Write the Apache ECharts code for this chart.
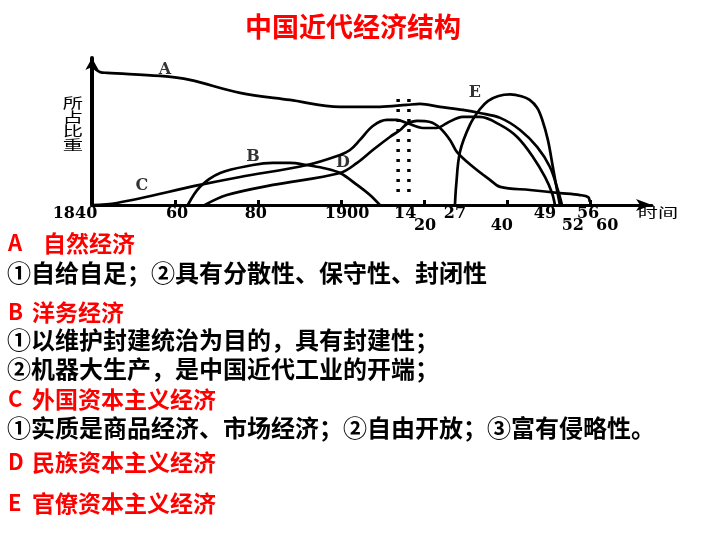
<!DOCTYPE html>
<html><head><meta charset="utf-8">
<script src="https://cdn.jsdelivr.net/npm/echarts@6/dist/echarts.min.js"></script>
<style>html,body{margin:0;padding:0;background:#fff}#c{width:720px;height:540px}</style>
</head><body><div id="c"></div>
<script>
// ---- data: [year, share] ----
const curveA = [[1840,90.8],[1841.9,86.9],[1843.6,86.3],[1856.4,84.3],[1863.6,81.7],[1875.7,73.2],[1887.7,68.6],[1899.8,64.1],[1909.4,64.1],[1915.9,65.4],[1919.1,66.0],[1923.9,64.1],[1929.4,62.1],[1933.5,60.1],[1938.4,56.9],[1943.2,49.0],[1947.3,37.9],[1950.4,24.8],[1952.3,9.8],[1953.3,0]];
const curveB = [[1863.1,0],[1866,11.8],[1870.9,20.9],[1878.8,26.1],[1883.6,27.5],[1887.7,27.5],[1891.8,26.1],[1895.7,24.2],[1899.8,20.9],[1903.9,13.1],[1907,6.5],[1909.4,0]];
const curveC = [[1840,0],[1846,1.3],[1866,13.1],[1875.7,18.3],[1891.8,26.1],[1899.8,32.7],[1902.2,35.9],[1904.6,42.5],[1907.7,51.6],[1911.1,55.6],[1913.5,55.6],[1915.9,53.6],[1919.8,50.3],[1923.2,50.3],[1925.6,53.6],[1929.4,57.5],[1933.5,57.5],[1938.4,52.3],[1942.5,44.4],[1946.3,31.4],[1949.2,18.3],[1950.9,7.8],[1951.6,0]];
const curveD = [[1867.2,0],[1872.5,6.5],[1883.6,13.1],[1899.8,20.9],[1903.9,27.5],[1907.7,35.9],[1911.8,44.4],[1914.3,49.0],[1915.9,52.9],[1918.4,54.9],[1921.5,54.2],[1923.9,50.3],[1926.3,42.5],[1928,34.6],[1931.9,24.8],[1936,16.3],[1938.4,11.8],[1945.6,9.8],[1952.8,7.8],[1957.6,6.5],[1959.6,5.2],[1960,2]];
const curveE = [[1927.5,0],[1927.8,13.1],[1928.7,34.6],[1931.1,52.3],[1933.5,62.5],[1935.5,68.0],[1938,71.2],[1940.8,72.2],[1943.5,71.0],[1945.5,68.6],[1947.3,63.5],[1948.5,56.0],[1949.9,42.5],[1951.1,24.8],[1952.1,9.8],[1952.8,0]];
const curveNames = ['A','B','C','D','E'];
const curveLabelAt = [[1857.6,88.2],[1878.8,31.4],[1852,12.4],[1900.5,27.5],[1932.3,73.2]];
const warYears = [1913.8, 1916.4];
const warSpan = [8.5, 70];
const tickMarkYears = [1860,1880,1900,1920,1940,1960];
const upperLabelAt = [1840,1860.5,1879.5,1901.5,1915.5,1927.5,1949.2,1959.6];
const upperLabelText = ['1840','60','80','1900','14','27','49','56'];
const lowerLabelAt = [1920.3,1938.8,1955.9,1964.2];
const lowerLabelText = ['20','40','52','60'];
const chartTitle = '中国近代经济结构';
const yName = '所占比重';
const xName = '时间';
const headLetters = ['A','B','C','D','E'];
const headNames = ['自然经济','洋务经济','外国资本主义经济','民族资本主义经济','官僚资本主义经济'];
const detailLines = ['①自给自足；②具有分散性、保守性、封闭性','①以维护封建统治为目的，具有封建性；','②机器大生产，是中国近代工业的开端；','①实质是商品经济、市场经济；②自由开放；③富有侵略性。'];

// ---- layout ----
const headY = [243,312,399,462,503];
const headX = [43,32,32,32,32];
const detailY = [273,340,369,428];
const CJK = '"Noto Sans CJK SC", sans-serif';
const SERIF = '"DejaVu Serif", serif';

function pick(pos, text, v) {
  for (let i = 0; i < pos.length; i++) if (Math.abs(pos[i] - v) < 1e-6) return text[i];
  return '';
}

const lineStyle = {color:'#000', width:2.7};
const curves = [curveA, curveB, curveC, curveD, curveE];
const series = curves.map((d, i) => ({
  type:'line', name: curveNames[i], data: d, smooth: 0.35, symbol:'none',
  lineStyle, silent:true, z: 3
}));
warYears.forEach(y => series.push({
  type:'line', data: [[y, warSpan[0]],[y, warSpan[1]]], symbol:'none',
  lineStyle:{color:'#000', width:3.5, type:[3,7], cap:'butt'}, silent:true
}));
series.push({
  type:'scatter', symbolSize:2, itemStyle:{color:'rgba(0,0,0,0)'}, silent:true, z:5,
  data: curveNames.map((n,i)=>({name:n, value:curveLabelAt[i]})),
  label:{show:true, position:'inside', formatter:'{b}', color:'#000',
    fontFamily:SERIF, fontWeight:'bold', fontSize:16}
});

const graphic = [];
graphic.push({type:'text', x:353, y:27, style:{text:chartTitle, fill:'#f00',
  fontFamily:CJK, fontWeight:'bold', fontSize:27, align:'center', verticalAlign:'middle'}});
graphic.push({type:'text', x:73, y:124, scaleX:1.45, style:{text: yName.split('').join('\n'), fill:'#000',
  fontFamily:CJK, fontSize:14, lineHeight:14, align:'center', verticalAlign:'middle'}});
graphic.push({type:'text', x:658, y:212, scaleX:1.55, style:{text: xName, fill:'#000',
  fontFamily:CJK, fontSize:13, align:'center', verticalAlign:'middle'}});
headLetters.forEach((t,i)=>{
  graphic.push({type:'text', x:8, y:headY[i], style:{text:t, fill:'#f00',
    fontFamily:CJK, fontWeight:'bold', fontSize:22, align:'left', verticalAlign:'middle'}});
  graphic.push({type:'text', x:headX[i], y:headY[i], style:{text:headNames[i], fill:'#f00',
    fontFamily:CJK, fontWeight:'bold', fontSize:23, align:'left', verticalAlign:'middle'}});
});
detailLines.forEach((t,i)=>{
  graphic.push({type:'text', x:7, y:detailY[i], style:{text:t, fill:'#000',
    fontFamily:CJK, fontWeight:'bold', fontSize:24, align:'left', verticalAlign:'middle'}});
});

const chart = echarts.init(document.getElementById('c'));
chart.setOption({
  animation:false,
  backgroundColor:'#fff',
  grid:{left:92, right:68, top:58, bottom:335, containLabel:false, outerBoundsMode:'none'},
  xAxis:[{
    type:'value', min:1840, max:1975, position:'bottom',
    axisLine:{show:true, onZero:false, lineStyle:{color:'#000', width:3}, symbol:['none','arrow'], symbolSize:[9,16]},
    axisTick:{show:true, inside:true, length:5, customValues:tickMarkYears, lineStyle:{color:'#000', width:3}},
    splitLine:{show:false},
    axisLabel:{show:true, customValues:upperLabelAt, margin:1, color:'#000',
      fontFamily:SERIF, fontWeight:'bold', fontSize:16,
      formatter: v => { const t = pick(upperLabelAt, upperLabelText, v); return v === upperLabelAt[0] ? '{f|' + t + '}' : t; },
      rich:{f:{padding:[0,34,0,0], fontFamily:SERIF, fontWeight:'bold', fontSize:16, color:'#000'}}}
  },{
    type:'value', min:1840, max:1975, position:'bottom', offset:0,
    axisLine:{show:false}, axisTick:{show:false}, splitLine:{show:false},
    axisLabel:{show:true, customValues:lowerLabelAt, margin:13, color:'#000',
      fontFamily:SERIF, fontWeight:'bold', fontSize:16,
      formatter: v => pick(lowerLabelAt, lowerLabelText, v)}
  }],
  yAxis:{
    type:'value', min:0, max:96,
    axisLine:{show:true, onZero:false, lineStyle:{color:'#000', width:4}, symbol:['none','arrow'], symbolSize:[10,12]},
    axisTick:{show:false}, axisLabel:{show:false}, splitLine:{show:false}
  },
  graphic,
  series
});
</script>
</body></html>
